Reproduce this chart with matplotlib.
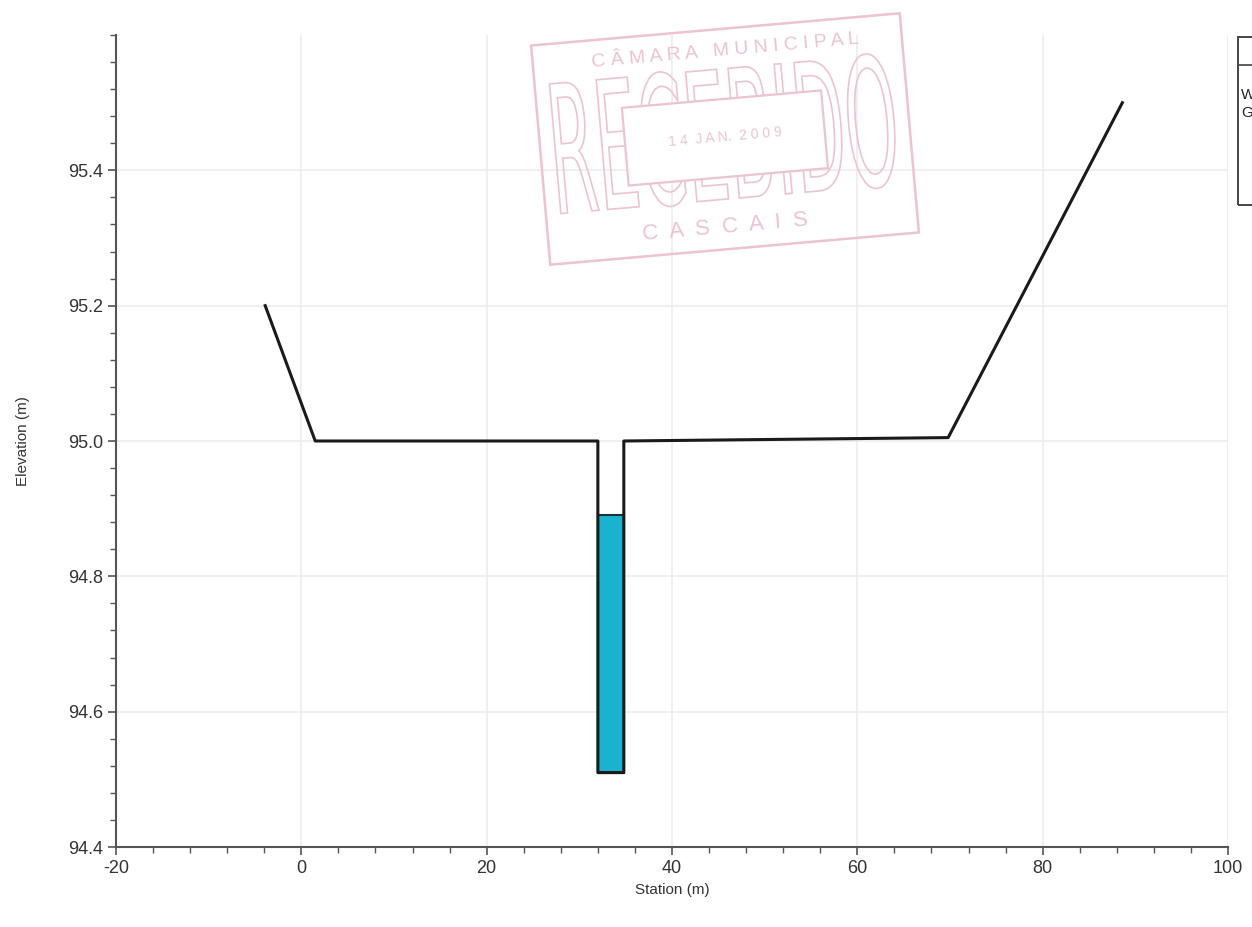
import matplotlib.pyplot as plt
import matplotlib.transforms as mtransforms
from matplotlib.patches import Rectangle, PathPatch
from matplotlib.lines import Line2D
from matplotlib.textpath import TextPath
from matplotlib.font_manager import FontProperties
from matplotlib.ticker import MultipleLocator

# ----- cross section data -----
station = [-3.9, 1.5, 32.0, 32.0, 34.8, 34.8, 69.8, 88.6]
elevation = [95.20, 95.00, 95.00, 94.51, 94.51, 95.00, 95.005, 95.50]
ws_elev = 94.89
ch_left, ch_right, ch_bed = 32.0, 34.8, 94.51
legend_labels = ['WS PF 1', 'Ground']

plt.rcParams['font.family'] = ['Liberation Sans', 'DejaVu Sans']
plt.rcParams['axes.unicode_minus'] = False

W, H = 1252, 927
fig = plt.figure(figsize=(W / 100, H / 100), dpi=100)
ax = fig.add_axes([116 / W, 1 - 847 / H, (1228 - 116) / W, (847 - 35) / H])

# water in the channel
ax.fill_between([ch_left, ch_right], ch_bed, ws_elev, color='#19b3cf',
                edgecolor='#16333a', linewidth=1.5, zorder=2)
ax.plot(station, elevation, color='#1a1a1a', linewidth=2.2, zorder=3)

ax.set_xlim(-20, 100)
ax.set_ylim(94.4, 95.6)
ax.xaxis.set_major_locator(MultipleLocator(20))
ax.xaxis.set_minor_locator(MultipleLocator(4))
ax.yaxis.set_minor_locator(MultipleLocator(0.04))
ax.set_yticks([94.4, 94.6, 94.8, 95.0, 95.2, 95.4])
ax.yaxis.set_major_formatter(plt.FormatStrFormatter('%.1f'))
ax.grid(True, which='major', color='#ececec', linewidth=1.2)
ax.set_axisbelow(True)
for s in ['top', 'right']:
    ax.spines[s].set_visible(False)
for s in ['left', 'bottom']:
    ax.spines[s].set_color('#555555')
    ax.spines[s].set_linewidth(1.5)
ax.tick_params(which='major', direction='out', length=6, width=1.2,
               colors='#555555', labelcolor='#333333', labelsize=13)
ax.tick_params(which='minor', direction='out', length=4, width=1.0,
               colors='#555555')
ax.set_xlabel('Station (m)', fontsize=11, color='#333333', labelpad=4)
ax.set_ylabel('Elevation (m)', fontsize=11, color='#333333', labelpad=27)

# legend box, cut off by the scan edge as in the original
lx, ltop, lbot = 1238, 37, 205
fig.add_artist(Rectangle((lx, H - lbot), 120, lbot - ltop, fill=False,
                         edgecolor='#444444', linewidth=1.4, transform=None))
fig.add_artist(Line2D([lx, lx + 120], [H - 65, H - 65], color='#444444',
                      linewidth=1.2, transform=None))
for i, lab in enumerate(legend_labels):
    fig.text((lx + 3) / W, 1 - (95 + 18 * i) / H, lab, fontsize=11,
             color='#222222', va='center', ha='left')

# faded archive stamp
stamp_col = '#ecc3d0'
cx, cy = 725, H - 139
rot = mtransforms.Affine2D().rotate_deg_around(cx, cy, 5)
fig.add_artist(Rectangle((cx - 185, cy - 110), 370, 220, fill=False,
                         edgecolor=stamp_col, linewidth=1.8, transform=rot))
# big outlined word, squeezed tall and narrow
tp = TextPath((0, 0), 'RECEBIDO', size=100,
              prop=FontProperties(family='DejaVu Sans'))
bb = tp.get_extents()
squeeze = (mtransforms.Affine2D()
           .translate(-bb.x0 - bb.width / 2, -bb.y0 - bb.height / 2)
           .scale(340 / bb.width, 135 / bb.height)
           .translate(cx, cy + 5)
           .rotate_deg_around(cx, cy, 5))
fig.add_artist(PathPatch(tp, facecolor='none', edgecolor=stamp_col,
                         linewidth=1.2, transform=squeeze, zorder=4))
fig.add_artist(Rectangle((cx - 100, cy - 38), 200, 78, facecolor='white',
                         edgecolor=stamp_col, linewidth=1.6, transform=rot,
                         zorder=5))
stamp_txt = [('C Â M A R A   M U N I C I P A L', 88, 14, 4),
             ('1 4  J A N.  2 0 0 9', 2, 10, 6),
             ('C  A  S  C  A  I  S', -88, 16, 4)]
for txt, dy, size, z in stamp_txt:
    fig.text(cx / W, (cy + dy) / H, txt, ha='center', va='center',
             fontsize=size, color=stamp_col, rotation=5, zorder=z)

fig.savefig('out.png', dpi=100)
